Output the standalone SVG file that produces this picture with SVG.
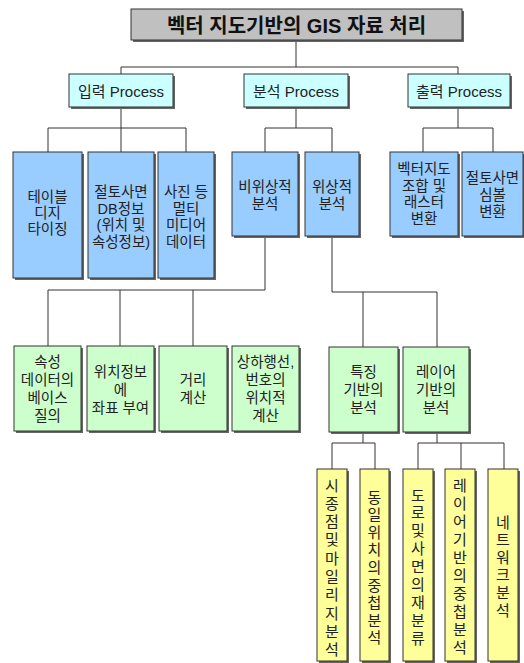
<svg xmlns="http://www.w3.org/2000/svg" width="524" height="663" viewBox="0 0 524 663">
<defs>
<style>
.box{stroke:#333;stroke-width:1}
.sh{fill:#666;stroke:none}
.title{fill:#c0c0c0}
.l1{fill:#ccffff}
.blue{fill:#99ccff}
.green{fill:#ccffcc}
.yellow{fill:#ffff99}
text{font-family:"Liberation Sans","Noto Sans CJK KR",sans-serif;fill:#222;text-anchor:middle}
.t0{font-size:20px;font-weight:bold;fill:#111}
.t1{font-size:15px}
.t2{font-size:14.5px}
.t3{font-size:15px}
.conn line{stroke:#333;stroke-width:1}
</style>
</defs>
<rect width="524" height="663" fill="#fff"/>
<g class="conn">
<line x1="296" y1="40" x2="296" y2="67"/>
<line x1="121" y1="67" x2="458" y2="67"/>
<line x1="121" y1="67" x2="121" y2="74"/>
<line x1="458" y1="67" x2="458" y2="74"/>
<line x1="121" y1="107" x2="121" y2="128"/>
<line x1="296" y1="107" x2="296" y2="128"/>
<line x1="458" y1="107" x2="458" y2="128"/>
<line x1="48" y1="128" x2="186" y2="128"/>
<line x1="265" y1="128" x2="332" y2="128"/>
<line x1="423" y1="128" x2="493" y2="128"/>
<line x1="48" y1="128" x2="48" y2="152"/>
<line x1="121" y1="128" x2="121" y2="152"/>
<line x1="186" y1="128" x2="186" y2="152"/>
<line x1="265" y1="128" x2="265" y2="152"/>
<line x1="332" y1="128" x2="332" y2="152"/>
<line x1="423" y1="128" x2="423" y2="152"/>
<line x1="493" y1="128" x2="493" y2="152"/>
<line x1="265" y1="236" x2="265" y2="290"/>
<line x1="48" y1="290" x2="265" y2="290"/>
<line x1="48" y1="290" x2="48" y2="346"/>
<line x1="120" y1="290" x2="120" y2="346"/>
<line x1="193" y1="290" x2="193" y2="346"/>
<line x1="332" y1="236" x2="332" y2="292"/>
<line x1="332" y1="292" x2="437" y2="292"/>
<line x1="363" y1="292" x2="363" y2="347"/>
<line x1="437" y1="292" x2="437" y2="347"/>
<line x1="363" y1="432" x2="363" y2="443"/>
<line x1="332" y1="443" x2="375" y2="443"/>
<line x1="332" y1="443" x2="332" y2="469"/>
<line x1="375" y1="443" x2="375" y2="469"/>
<line x1="437" y1="432" x2="437" y2="443"/>
<line x1="418" y1="443" x2="504" y2="443"/>
<line x1="418" y1="443" x2="418" y2="469"/>
<line x1="461" y1="443" x2="461" y2="469"/>
<line x1="504" y1="443" x2="504" y2="469"/>
</g>

<g id="title">
<rect class="sh" x="133" y="11" width="331" height="31"/>
<rect class="box title" x="131" y="9" width="331" height="31"/>
<text class="t0" x="296.5" y="32.5">벡터 지도기반의 GIS 자료 처리</text>
</g>

<g id="input">
<rect class="sh" x="71" y="76" width="104" height="33"/>
<rect class="box l1" x="69" y="74" width="104" height="33"/>
<text class="t1" x="121" y="96.5">입력 Process</text>
</g>
<g id="analysis">
<rect class="sh" x="246" y="76" width="104" height="33"/>
<rect class="box l1" x="244" y="74" width="104" height="33"/>
<text class="t1" x="296" y="96.5">분석 Process</text>
</g>
<g id="output">
<rect class="sh" x="410" y="76" width="102" height="33"/>
<rect class="box l1" x="408" y="74" width="102" height="33"/>
<text class="t1" x="459" y="96.5">출력 Process</text>
</g>

<g id="digitizing">
<rect class="sh" x="15" y="154" width="69" height="126"/>
<rect class="box blue" x="13" y="152" width="69" height="126"/>
<text class="t2"><tspan x="47.5" y="202">테이블</tspan><tspan x="47.5" y="218">디지</tspan><tspan x="47.5" y="234">타이징</tspan></text>
</g>
<g id="slope-db">
<rect class="sh" x="90" y="154" width="66" height="126"/>
<rect class="box blue" x="88" y="152" width="66" height="126"/>
<text class="t2"><tspan x="121" y="197">절토사면</tspan><tspan x="121" y="213.5">DB정보</tspan><tspan x="121" y="230">(위치 및</tspan><tspan x="121" y="246.5">속성정보)</tspan></text>
</g>
<g id="multimedia">
<rect class="sh" x="160" y="154" width="56" height="126"/>
<rect class="box blue" x="158" y="152" width="56" height="126"/>
<text class="t2"><tspan x="186" y="197">사진 등</tspan><tspan x="186" y="213.5">멀티</tspan><tspan x="186" y="230">미디어</tspan><tspan x="186" y="246.5">데이터</tspan></text>
</g>
<g id="nontopo">
<rect class="sh" x="234" y="154" width="66" height="84"/>
<rect class="box blue" x="232" y="152" width="66" height="84"/>
<text class="t2"><tspan x="265" y="192">비위상적</tspan><tspan x="265" y="208.5">분석</tspan></text>
</g>
<g id="topo">
<rect class="sh" x="307" y="154" width="54" height="84"/>
<rect class="box blue" x="305" y="152" width="54" height="84"/>
<text class="t2"><tspan x="332" y="192">위상적</tspan><tspan x="332" y="208.5">분석</tspan></text>
</g>
<g id="vector-raster">
<rect class="sh" x="392" y="154" width="68" height="84"/>
<rect class="box blue" x="390" y="152" width="68" height="84"/>
<text class="t2"><tspan x="424" y="174">벡터지도</tspan><tspan x="424" y="190.5">조합 및</tspan><tspan x="424" y="207">래스터</tspan><tspan x="424" y="223.5">변환</tspan></text>
</g>
<g id="symbol">
<rect class="sh" x="464" y="154" width="61" height="84"/>
<rect class="box blue" x="462" y="152" width="61" height="84"/>
<text class="t2"><tspan x="492.5" y="183">절토사면</tspan><tspan x="492.5" y="200">심볼</tspan><tspan x="492.5" y="217">변환</tspan></text>
</g>

<g id="attr-query">
<rect class="sh" x="16" y="348" width="67" height="85"/>
<rect class="box green" x="14" y="346" width="67" height="85"/>
<text class="t2"><tspan x="47.5" y="367">속성</tspan><tspan x="47.5" y="385">데이터의</tspan><tspan x="47.5" y="403">베이스</tspan><tspan x="47.5" y="420.5">질의</tspan></text>
</g>
<g id="coord">
<rect class="sh" x="89" y="348" width="67" height="85"/>
<rect class="box green" x="87" y="346" width="67" height="85"/>
<text class="t2"><tspan x="120.5" y="377">위치정보</tspan><tspan x="120.5" y="395">에</tspan><tspan x="120.5" y="413">좌표 부여</tspan></text>
</g>
<g id="distance">
<rect class="sh" x="161" y="348" width="68" height="85"/>
<rect class="box green" x="159" y="346" width="68" height="85"/>
<text class="t2"><tspan x="193" y="385">거리</tspan><tspan x="193" y="403">계산</tspan></text>
</g>
<g id="lane">
<rect class="sh" x="234" y="348" width="67" height="85"/>
<rect class="box green" x="232" y="346" width="67" height="85"/>
<text class="t2"><tspan x="265.5" y="367">상하행선,</tspan><tspan x="265.5" y="385">번호의</tspan><tspan x="265.5" y="403">위치적</tspan><tspan x="265.5" y="421">계산</tspan></text>
</g>
<g id="feature">
<rect class="sh" x="331" y="349" width="69" height="85"/>
<rect class="box green" x="329" y="347" width="69" height="85"/>
<text class="t2"><tspan x="363.5" y="377">특징</tspan><tspan x="363.5" y="395">기반의</tspan><tspan x="363.5" y="413">분석</tspan></text>
</g>
<g id="layer">
<rect class="sh" x="405" y="349" width="66" height="85"/>
<rect class="box green" x="403" y="347" width="66" height="85"/>
<text class="t2"><tspan x="436" y="377">레이어</tspan><tspan x="436" y="395">기반의</tspan><tspan x="436" y="413">분석</tspan></text>
</g>

<g id="mileage">
<rect class="sh" x="319" y="471" width="30" height="192"/>
<rect class="box yellow" x="317" y="469" width="30" height="192"/>
<text class="t3"><tspan x="332" y="490.5">시</tspan><tspan x="332" dy="18.3">종</tspan><tspan x="332" dy="18.3">점</tspan><tspan x="332" dy="18.3">및</tspan><tspan x="332" dy="18.3">마</tspan><tspan x="332" dy="18.3">일</tspan><tspan x="332" dy="18.3">리</tspan><tspan x="332" dy="18.3">지</tspan><tspan x="332" dy="18.3">분</tspan><tspan x="332" dy="18.3">석</tspan></text>
</g>
<g id="overlay-same">
<rect class="sh" x="362" y="471" width="29" height="192"/>
<rect class="box yellow" x="360" y="469" width="29" height="192"/>
<text class="t3"><tspan x="374.5" y="502.5">동</tspan><tspan x="374.5" dy="17.6">일</tspan><tspan x="374.5" dy="17.6">위</tspan><tspan x="374.5" dy="17.6">치</tspan><tspan x="374.5" dy="17.6">의</tspan><tspan x="374.5" dy="17.6">중</tspan><tspan x="374.5" dy="17.6">첩</tspan><tspan x="374.5" dy="17.6">분</tspan><tspan x="374.5" dy="17.6">석</tspan></text>
</g>
<g id="reclass">
<rect class="sh" x="405" y="471" width="30" height="192"/>
<rect class="box yellow" x="403" y="469" width="30" height="192"/>
<text class="t3"><tspan x="418" y="500.5">도</tspan><tspan x="418" dy="17.9">로</tspan><tspan x="418" dy="17.9">및</tspan><tspan x="418" dy="17.9">사</tspan><tspan x="418" dy="17.9">면</tspan><tspan x="418" dy="17.9">의</tspan><tspan x="418" dy="17.9">재</tspan><tspan x="418" dy="17.9">분</tspan><tspan x="418" dy="17.9">류</tspan></text>
</g>
<g id="layer-overlay">
<rect class="sh" x="447" y="471" width="30" height="192"/>
<rect class="box yellow" x="445" y="469" width="30" height="192"/>
<text class="t3"><tspan x="460" y="490.5">레</tspan><tspan x="460" dy="18.1">이</tspan><tspan x="460" dy="18.1">어</tspan><tspan x="460" dy="18.1">기</tspan><tspan x="460" dy="18.1">반</tspan><tspan x="460" dy="18.1">의</tspan><tspan x="460" dy="18.1">중</tspan><tspan x="460" dy="18.1">첩</tspan><tspan x="460" dy="18.1">분</tspan><tspan x="460" dy="18.1">석</tspan></text>
</g>
<g id="network">
<rect class="sh" x="490" y="471" width="30" height="192"/>
<rect class="box yellow" x="488" y="469" width="30" height="192"/>
<text class="t3"><tspan x="503" y="527.5">네</tspan><tspan x="503" dy="17.6">트</tspan><tspan x="503" dy="17.6">워</tspan><tspan x="503" dy="17.6">크</tspan><tspan x="503" dy="17.6">분</tspan><tspan x="503" dy="17.6">석</tspan></text>
</g>
</svg>
